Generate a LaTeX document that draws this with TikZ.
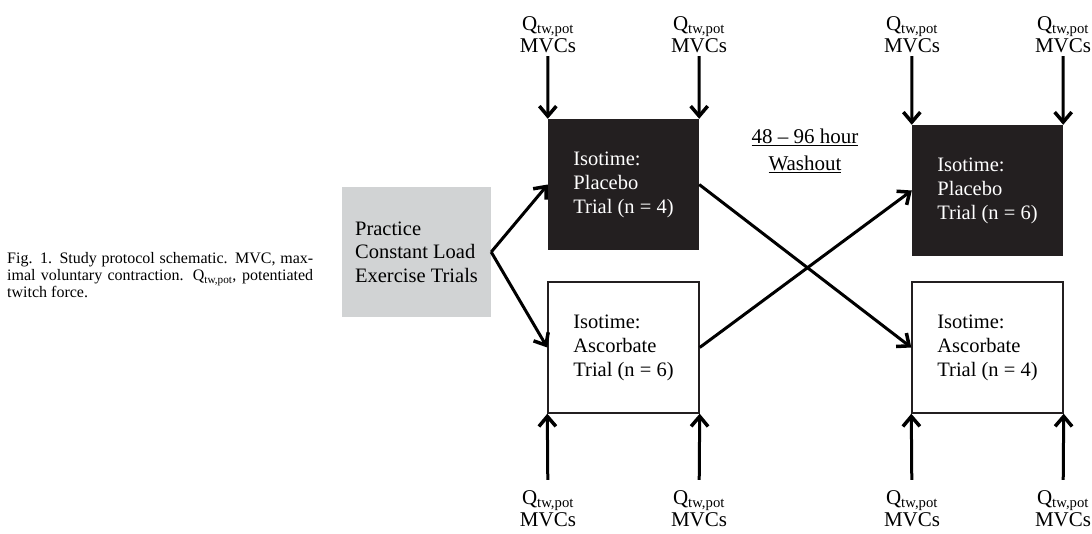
\documentclass[tikz,border=0pt]{standalone}
\usepackage{fontspec}
\setmainfont{Liberation Serif}
\usetikzlibrary{arrows.meta, positioning}
\definecolor{boxgray}{RGB}{209,211,212}
\definecolor{boxblack}{RGB}{35,31,32}

\begin{document}
\begin{tikzpicture}[x=1pt, y=-1pt,
  trial/.style={rectangle, minimum width=151pt, minimum height=131pt,
                inner sep=0pt, align=left,
                font=\fontsize{20.5}{24}\selectfont},
  placebo/.style={trial, fill=boxblack, text=white},
  ascorb/.style={trial, fill=white, draw=boxblack, line width=1.4pt},
  qlbl/.style={align=center, inner sep=0pt,
               font=\fontsize{21}{22}\selectfont},
  arr/.style={-{Straight Barb[length=10pt, width=17pt, line width=3.5pt]},
              line width=3pt}
]
  \useasboundingbox (0,0) rectangle (1092,533);

  %% -- Caption
  \node[anchor=west, align=left, inner sep=0pt,
        font=\fontsize{16}{17}\selectfont] (caption) at (7,275)
    {\makebox[306pt][s]{Fig. 1. Study protocol schematic. MVC, max-}\\
     \makebox[306pt][s]{imal voluntary contraction. Q\textsubscript{tw,pot}, potentiated}\\
     twitch force.};

  %% -- Practice block
  \node[rectangle, fill=boxgray, minimum width=149pt, minimum height=130pt,
        inner sep=0pt, align=left, font=\fontsize{20.5}{23.5}\selectfont]
    (practice) at (416.5,252) {Practice\\Constant Load\\Exercise Trials};

  %% -- Trial boxes
  \node[placebo] (plc1) at (623.5,184.5) {Isotime:\\Placebo\\Trial (n = 4)};
  \node[ascorb]  (asc1) at (623.5,347.5) {Isotime:\\Ascorbate\\Trial (n = 6)};
  \node[placebo] (plc2) at (987.5,190.5) {Isotime:\\Placebo\\Trial (n = 6)};
  \node[ascorb]  (asc2) at (987.5,347.5) {Isotime:\\Ascorbate\\Trial (n = 4)};

  %% -- Washout
  \node[align=center, font=\fontsize{21}{27}\selectfont] (washout) at (805,151)
    {\underline{48 -- 96 hour}\\\underline{Washout}};

  %% Measurement labels
  \node[qlbl, outer ysep=3pt] (qt1) at (548,35)  {Q\textsubscript{tw,pot}\\MVCs};
  \node[qlbl, outer ysep=3pt] (qt2) at (699,35)  {Q\textsubscript{tw,pot}\\MVCs};
  \node[qlbl, outer ysep=3pt] (qt3) at (912,35)  {Q\textsubscript{tw,pot}\\MVCs};
  \node[qlbl, outer ysep=3pt] (qt4) at (1063,35) {Q\textsubscript{tw,pot}\\MVCs};
  \node[qlbl, outer ysep=11pt] (qb1) at (548,509)  {Q\textsubscript{tw,pot}\\MVCs};
  \node[qlbl, outer ysep=11pt] (qb2) at (699,509)  {Q\textsubscript{tw,pot}\\MVCs};
  \node[qlbl, outer ysep=11pt] (qb3) at (912,509)  {Q\textsubscript{tw,pot}\\MVCs};
  \node[qlbl, outer ysep=11pt] (qb4) at (1063,509) {Q\textsubscript{tw,pot}\\MVCs};

  %% Connections
  \draw[arr] (practice.east) -- (plc1.west);
  \draw[arr] (practice.east) -- (asc1.west);
  \draw[arr] (plc1.east) -- (asc2.west);
  \draw[arr] (asc1.east) -- (plc2.west);

  \draw[arr] (qt1) -- (plc1.north west);
  \draw[arr] (qt2) -- (plc1.north east);
  \draw[arr] (qt3) -- (plc2.north west);
  \draw[arr] (qt4) -- (plc2.north east);
  \draw[arr] (qb1) -- (asc1.south west);
  \draw[arr] (qb2) -- (asc1.south east);
  \draw[arr] (qb3) -- (asc2.south west);
  \draw[arr] (qb4) -- (asc2.south east);

\end{tikzpicture}
\end{document}
